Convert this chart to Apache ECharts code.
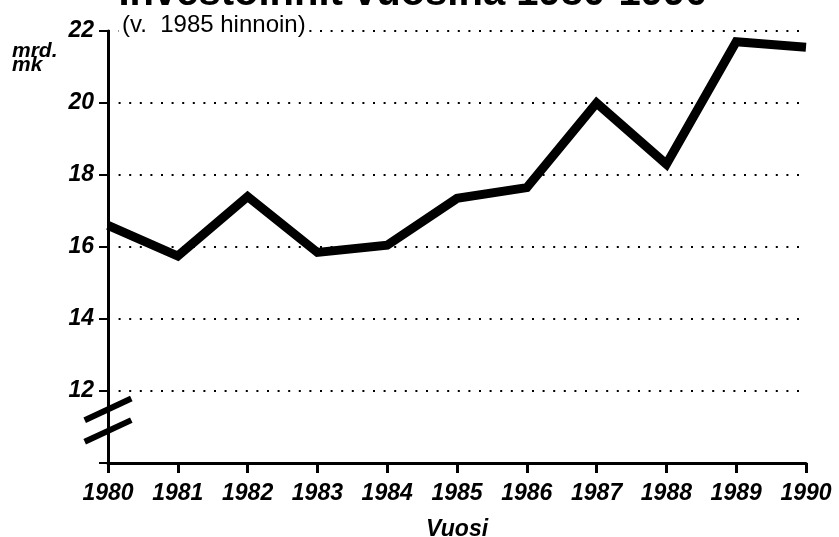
<!DOCTYPE html>
<html><head><meta charset="utf-8">
<script src="https://cdn.jsdelivr.net/npm/echarts@6/dist/echarts.min.js"></script>
<style>html,body{margin:0;padding:0;background:#fff}#c{width:839px;height:537px}</style>
</head><body><div id="c"></div>
<script>
const years = ['1980','1981','1982','1983','1984','1985','1986','1987','1988','1989','1990'];
const investments = [16.6, 15.75, 17.4, 15.85, 16.05, 17.35, 17.65, 20.0, 18.3, 21.7, 21.55];
const yMin = 10, yMax = 22, yStep = 2;
const titleText = 'Investoinnit vuosina 1980-1990';
const subText = '(v.  1985 hinnoin)';
const unitText = 'mrd.\nmk';
const xName = 'Vuosi';
const FONT = '"Liberation Sans", Arial, sans-serif';

const chart = echarts.init(document.getElementById('c'), null, {renderer: 'canvas'});
chart.setOption({
  animation: false,
  backgroundColor: '#fff',
  title: {
    text: titleText, left: 408, textAlign: 'center', top: -31,
    textStyle: {fontFamily: FONT, fontSize: 40, fontWeight: 'bold', color: '#000'}
  },
  grid: {left: 108, right: 33, top: 31, bottom: 74, containLabel: false, outerBoundsMode: 'none'},
  xAxis: {
    type: 'category', data: years, boundaryGap: false,
    name: xName, nameLocation: 'middle', nameGap: 55,
    nameTextStyle: {fontFamily: FONT, fontSize: 23, fontWeight: 'bold', fontStyle: 'italic', color: '#000'},
    axisLine: {lineStyle: {color: '#000', width: 3}},
    axisTick: {show: true, inside: false, length: 10, lineStyle: {color: '#000', width: 3}, alignWithLabel: true},
    axisLabel: {margin: 19, fontFamily: FONT, fontSize: 23, fontWeight: 'bold', fontStyle: 'italic', color: '#000'},
    splitLine: {show: false}
  },
  yAxis: {
    type: 'value', min: yMin, max: yMax, interval: yStep,
    axisLine: {show: true, lineStyle: {color: '#000', width: 3}},
    axisTick: {show: true, length: 9, lineStyle: {color: '#000', width: 2}},
    axisLabel: {
      margin: 14, fontFamily: FONT, fontSize: 23, fontWeight: 'bold', fontStyle: 'italic', color: '#000',
      verticalAlign: 'middle', padding: [0, 0, 16, 0],
      formatter: v => v === yMin ? '' : String(v)
    },
    splitLine: {show: true, lineStyle: {color: '#000', width: 2, type: [2, 8.6]}}
  },
  series: [{
    type: 'line', data: investments, symbol: 'none', silent: true,
    lineStyle: {color: '#000', width: 9, cap: 'butt', join: 'miter'}
  }]
});

// decorations: unit label, subtitle and axis-break slashes
const x0 = chart.convertToPixel({xAxisIndex: 0}, years[0]);
const yTop = chart.convertToPixel({yAxisIndex: 0}, yMax);
const b1 = chart.convertToPixel({yAxisIndex: 0}, 11.49);
const b2 = chart.convertToPixel({yAxisIndex: 0}, 10.89);
const dx = 23.3, dy = 10.85;
chart.setOption({
  graphic: [
    {type: 'text', left: 12, top: 41, style: {text: unitText, fontFamily: FONT, fontSize: 21, fontWeight: 'bold', fontStyle: 'italic', fill: '#000', lineHeight: 14}},
    {type: 'text', x: x0 + 11, y: yTop + 6, style: {text: subText, fontFamily: FONT, fontSize: 24, fill: '#000', verticalAlign: 'bottom', backgroundColor: '#fff', padding: [0, 3, 0, 3]}},
    {type: 'line', shape: {x1: x0 - dx, y1: b1 + dy, x2: x0 + dx, y2: b1 - dy}, style: {stroke: '#000', lineWidth: 6}},
    {type: 'line', shape: {x1: x0 - dx, y1: b2 + dy, x2: x0 + dx, y2: b2 - dy}, style: {stroke: '#000', lineWidth: 6}}
  ]
});
</script></body></html>
